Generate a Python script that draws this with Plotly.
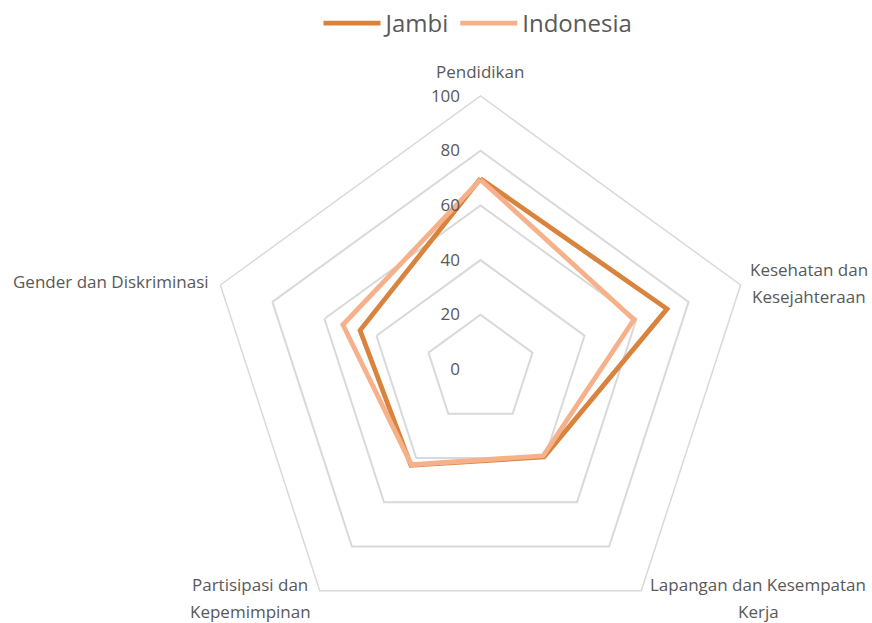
import plotly.graph_objects as go

# Index dimensions (radar axes, clockwise from the top)
categories = [
    "Pendidikan",
    "Kesehatan dan<br>Kesejahteraan",
    "Lapangan dan Kesempatan<br>Kerja",
    "Partisipasi dan<br>Kepemimpinan",
    "Gender dan Diskriminasi",
]
jambi = [69.8, 71.7, 39.5, 43.3, 46.3]
indonesia = [69.4, 59.0, 39.0, 43.0, 52.9]
radial_ticks = [0, 20, 40, 60, 80, 100]

W, H = 872, 650
CX, CY, R = 480.5, 369.5, 273.5  # pixel centre and outer radius of the radar

TEXT = "#595959"
GRID = "#D9D9D9"
FONT = "Open Sans, Noto Sans, sans-serif"

fig = go.Figure()


def closed(vals):
    return vals + vals[:1]


theta = closed([c for c in categories])
for name, vals, color in [("Jambi", jambi, "#D9843E"), ("Indonesia", indonesia, "#F6B18A")]:
    fig.add_trace(go.Scatterpolar(
        r=closed(vals), theta=theta, name=name, mode="lines",
        line=dict(color=color, width=4.8),
        hoverinfo="name+r",
    ))

# Category labels around the outer pentagon (centre of each text block)
label_pos = [
    (480, 72),
    (809, 283),
    (758, 598),
    (250, 598),
    (111, 282),
]
LINE_GAP = 27
for cat, (px, py) in zip(categories, label_pos):
    lines = cat.split("<br>")
    y0 = py - LINE_GAP * (len(lines) - 1) / 2
    for i, ln in enumerate(lines):
        fig.add_annotation(
            x=px / W, y=1 - (y0 + i * LINE_GAP) / H, xref="paper", yref="paper",
            text=ln, showarrow=False, xanchor="center", yanchor="middle",
            font=dict(size=17, color=TEXT, family=FONT),
        )

fig.update_layout(
    width=W, height=H,
    margin=dict(l=0, r=0, t=0, b=0),
    paper_bgcolor="white",
    font=dict(family=FONT, color=TEXT),
    showlegend=True,
    legend=dict(
        orientation="h", x=478 / W, y=1 - 1 / H, xanchor="center", yanchor="top",
        font=dict(size=24, color=TEXT), bgcolor="rgba(0,0,0,0)",
        itemwidth=57,
    ),
    polar=dict(
        domain=dict(x=[(CX - R) / W, (CX + R) / W], y=[1 - (CY + R) / H, 1 - (CY - R) / H]),
        gridshape="linear",
        bgcolor="white",
        radialaxis=dict(
            range=[0, 100], tickvals=radial_ticks, angle=90, side="counterclockwise",
            showline=False, showgrid=True, gridcolor=GRID, gridwidth=1.5,
            ticks="outside", ticklen=14, tickcolor="rgba(0,0,0,0)",
            tickfont=dict(size=17, color=TEXT, family=FONT), tickangle=90,
        ),
        angularaxis=dict(
            direction="clockwise", rotation=90,
            showline=True, linecolor=GRID, linewidth=1.5,
            showgrid=False, ticks="", showticklabels=False,
        ),
    ),
)

fig.write_html("out.html")
